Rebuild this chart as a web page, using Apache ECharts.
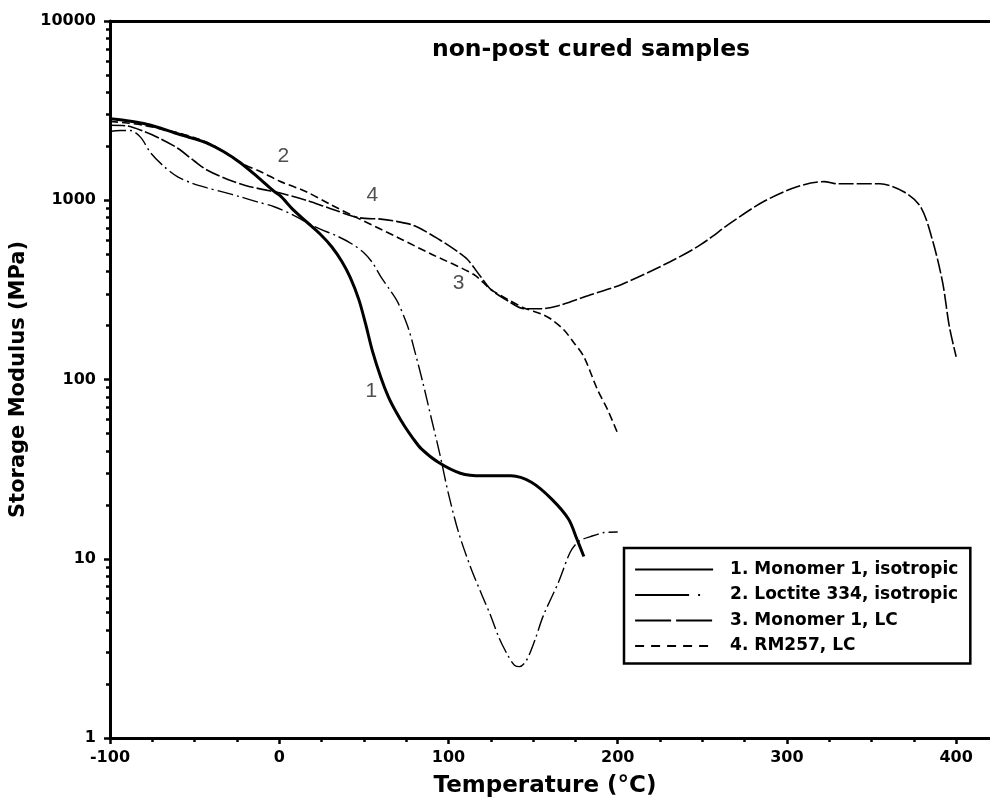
<!DOCTYPE html>
<html>
<head>
<meta charset="utf-8">
<script src="https://cdn.jsdelivr.net/npm/echarts@6/dist/echarts.min.js"></script>
<style>
html,body{margin:0;padding:0;background:#fff;}
#chart{width:990px;height:803px;}
</style>
</head>
<body>
<div id="chart"></div>
<script>
// ---- data ----
const seriesNames = ['1. Monomer 1, isotropic', '2. Loctite 334, isotropic', '3. Monomer 1, LC', '4. RM257, LC'];

const temp1 = [-100, -90, -80, -70, -62, -52, -43, -33, -23, -12, -3, 1, 8, 16, 24, 31, 37, 42, 47, 51, 55, 60, 64.5, 69, 74, 79, 84, 94, 107, 120, 137, 149, 161, 171, 176, 180];
const mod1  = [2850, 2780, 2680, 2520, 2380, 2230, 2090, 1870, 1620, 1330, 1120, 1050, 890, 760, 650, 550, 455, 370, 280, 205, 145, 103, 80, 66, 55, 47, 41, 34.5, 30, 29, 29, 26.7, 21.5, 16.6, 12.8, 10.3];

const temp2 = [-100, -94, -88, -82, -76, -68, -60, -52, -43, -33, -23, -13, -3, 8, 21, 35, 43, 50, 55, 60, 65, 70, 76, 80, 85, 90, 95, 100, 106, 113, 120, 125, 130, 135, 139, 142, 146, 151, 156, 165, 172, 177, 184, 192, 200];
const mod2  = [2420, 2450, 2450, 2250, 1840, 1540, 1350, 1250, 1175, 1110, 1045, 980, 920, 830, 712, 626, 570, 510, 450, 375, 320, 270, 197, 145, 95, 60, 38, 23, 14, 9, 6.2, 4.8, 3.6, 2.9, 2.55, 2.5, 2.7, 3.5, 4.8, 7.4, 10.9, 12.5, 13.3, 14, 14.1];

const temp3 = [-100, -90, -80, -70, -60, -50, -43, -30, -20, -10, 0, 16, 30, 47, 60, 70, 80, 95, 105, 111, 119, 125, 135, 145, 155, 165, 184, 202, 231, 249, 267, 286, 306, 322, 330, 355, 369, 379, 386, 392, 396, 400];
const mod3  = [2620, 2600, 2420, 2200, 1950, 1650, 1480, 1300, 1210, 1150, 1100, 1000, 900, 800, 785, 760, 720, 600, 520, 470, 375, 318, 275, 248, 248, 258, 297, 338, 454, 565, 750, 980, 1190, 1270, 1235, 1235, 1115, 920, 600, 348, 197, 134];

const temp4 = [-100, -90, -80, -70, -60, -50, -40, -30, -23, -10, 0, 16, 30, 47, 70, 90, 115, 125, 135, 145, 155, 161, 168, 174, 180, 188, 194, 200];
const mod4  = [2750, 2700, 2620, 2500, 2380, 2230, 2050, 1800, 1620, 1430, 1280, 1115, 950, 790, 620, 500, 385, 318, 280, 250, 232, 216, 190, 161, 134, 88, 68, 50];

const annoText = ['2', '4', '3', '1'];
const annoTemp = [2.5, 55, 106, 54.5];
const annoMod  = [1750, 1070, 343, 86];

const xTicks = [-100, 0, 100, 200, 300, 400];
const xMinorTicks = [-75, -50, -25, 25, 50, 75, 125, 150, 175, 225, 250, 275, 325, 350, 375];

// ---- build ----
function pairs(t, v) { return t.map((x, i) => [x, v[i]]); }
const yMinorLog = [];
for (let d = 0; d < 4; d++) for (let k = 2; k <= 9; k++) yMinorLog.push(d + Math.log10(k));

const FONT = 'DejaVu Sans';
const black = '#000';

const chart = echarts.init(document.getElementById('chart'), null, {renderer: 'canvas'});
const lineBase = {type: 'line', symbol: 'none', showSymbol: false, smooth: 0.3, xAxisIndex: 0, yAxisIndex: 0, z: 3, itemStyle: {color: black}};

chart.setOption({
  animation: false,
  backgroundColor: '#fff',
  title: {
    text: 'non-post cured samples', left: 427, top: 33,
    textStyle: {fontFamily: FONT, fontWeight: 'bold', fontSize: 23.5, color: black}
  },
  grid: {left: 110, right: 0, top: 21, bottom: 64, containLabel: false},
  legend: {
    data: [
      {name: seriesNames[0]},
      {name: seriesNames[1], lineStyle: {type: [54, 9, 2, 40]}},
      {name: seriesNames[2], lineStyle: {type: [36, 5]}},
      {name: seriesNames[3], lineStyle: {type: [9, 7]}}
    ],
    orient: 'vertical', left: 624, top: 548,
    padding: [13, 12, 9, 10],
    itemWidth: 78, itemHeight: 14, itemGap: 8.5,
    borderColor: black, borderWidth: 2.5, backgroundColor: '#fff',
    itemStyle: {opacity: 0, color: 'rgba(0,0,0,0)', borderWidth: 0},
    lineStyle: {color: black, width: 2.2},
    textStyle: {fontFamily: FONT, fontWeight: 'bold', fontSize: 17, color: black, lineHeight: 17, padding: [0, 0, 0, 12]},
    selectedMode: false
  },
  xAxis: [
    {
      type: 'value', min: -100, max: 420, interval: 100, position: 'bottom',
      axisLine: {show: true, onZero: false, lineStyle: {color: black, width: 3}},
      axisTick: {show: true, customValues: xTicks, length: 6, lineStyle: {color: black, width: 2.5}},
      axisLabel: {customValues: xTicks, formatter: v => String(v), color: black, fontFamily: FONT, fontWeight: 'bold', fontSize: 16, margin: 12},
      splitLine: {show: false},
      name: 'Temperature (°C)', nameLocation: 'middle', nameGap: 37,
      nameTextStyle: {fontFamily: FONT, fontWeight: 'bold', fontSize: 23, color: black, padding: [0, 10, 0, 0]}
    },
    {
      type: 'value', min: -100, max: 420, position: 'bottom',
      axisLine: {show: false, onZero: false},
      axisTick: {show: true, customValues: xMinorTicks, length: 4, lineStyle: {color: black, width: 2.5}},
      axisLabel: {show: false}, splitLine: {show: false}
    },
    {
      type: 'value', min: -100, max: 420, position: 'top',
      axisLine: {show: true, onZero: false, lineStyle: {color: black, width: 3}},
      axisTick: {show: false}, axisLabel: {show: false}, splitLine: {show: false}
    }
  ],
  yAxis: [
    {
      type: 'log', logBase: 10, min: 1, max: 10000, position: 'left',
      axisLine: {show: true, onZero: false, lineStyle: {color: black, width: 3}},
      axisTick: {show: true, length: 6, lineStyle: {color: black, width: 2.5}},
      axisLabel: {formatter: v => String(Math.round(v)), color: black, fontFamily: FONT, fontWeight: 'bold', fontSize: 16, margin: 14},
      splitLine: {show: false},
      name: 'Storage Modulus (MPa)', nameLocation: 'middle', nameGap: 80, nameRotate: 90,
      nameTextStyle: {fontFamily: FONT, fontWeight: 'bold', fontSize: 21, color: black}
    },
    {
      type: 'value', min: 0, max: 4, position: 'left',
      axisLine: {show: false, onZero: false},
      axisTick: {show: true, customValues: yMinorLog, length: 4, lineStyle: {color: black, width: 2.5}},
      axisLabel: {show: false}, splitLine: {show: false}
    }
  ],
  series: [
    Object.assign({}, lineBase, {name: seriesNames[0], data: pairs(temp1, mod1), lineStyle: {color: black, width: 3, type: 'solid'}}),
    Object.assign({}, lineBase, {name: seriesNames[1], data: pairs(temp2, mod2), lineStyle: {color: black, width: 1.4, type: [16, 4, 2, 4]}}),
    Object.assign({}, lineBase, {name: seriesNames[2], data: pairs(temp3, mod3), lineStyle: {color: black, width: 1.6, type: [15, 3]}}),
    Object.assign({}, lineBase, {name: seriesNames[3], data: pairs(temp4, mod4), lineStyle: {color: black, width: 1.6, type: [8, 4]}}),
    {
      type: 'scatter', name: 'annotations', xAxisIndex: 0, yAxisIndex: 0,
      symbolSize: 1, itemStyle: {color: 'rgba(0,0,0,0)'},
      data: annoText.map((t, i) => ({name: t, value: [annoTemp[i], annoMod[i]]})),
      label: {show: true, position: 'inside', formatter: '{b}', fontFamily: 'Liberation Sans', fontSize: 21, color: '#222', fontWeight: 'normal'},
      z: 4
    }
  ]
});
</script>
</body>
</html>
